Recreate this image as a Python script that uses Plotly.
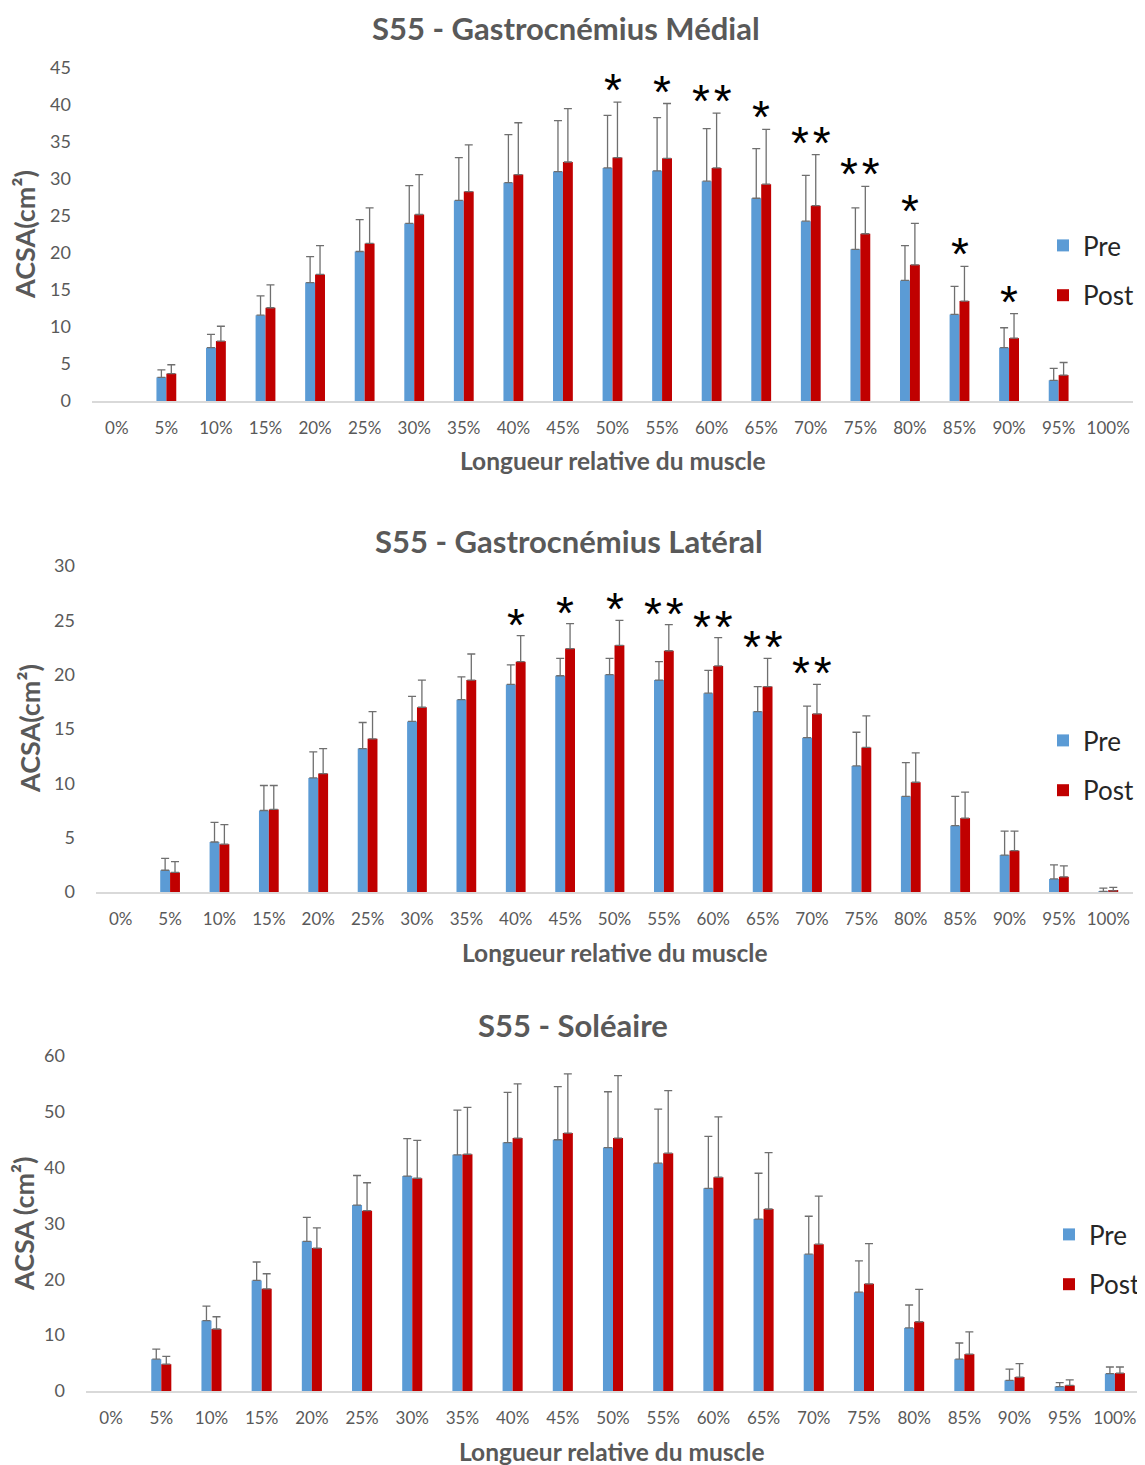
import plotly.graph_objects as go

categories = ["0%", "5%", "10%", "15%", "20%", "25%", "30%", "35%", "40%", "45%", "50%",
              "55%", "60%", "65%", "70%", "75%", "80%", "85%", "90%", "95%", "100%"]

# Gastrocnémius Médial
gm_pre = [None, 3.2, 7.2, 11.6, 16.0, 20.2, 24.0, 27.1, 29.5, 31.0, 31.5,
          31.1, 29.7, 27.4, 24.3, 20.5, 16.3, 11.7, 7.2, 2.8, None]
gm_pre_top = [None, 4.2, 9.0, 14.2, 19.5, 24.5, 29.1, 32.9, 36.0, 37.9, 38.6,
              38.3, 36.8, 34.1, 30.5, 26.1, 21.0, 15.5, 9.9, 4.4, None]
gm_post = [None, 3.7, 8.1, 12.6, 17.1, 21.3, 25.2, 28.3, 30.6, 32.3, 32.9,
           32.8, 31.5, 29.3, 26.4, 22.6, 18.4, 13.5, 8.5, 3.5, None]
gm_post_top = [None, 4.9, 10.1, 15.7, 21.0, 26.1, 30.6, 34.6, 37.6, 39.5, 40.4,
               40.2, 38.9, 36.7, 33.3, 29.0, 24.0, 18.2, 11.8, 5.2, None]
gm_stars = ["", "", "", "", "", "", "", "", "", "", "*",
            "*", "**", "*", "**", "**", "*", "*", "*", "", ""]

# Gastrocnémius Latéral
gl_pre = [None, 2.0, 4.6, 7.5, 10.5, 13.2, 15.7, 17.7, 19.1, 19.9, 20.0,
          19.5, 18.3, 16.6, 14.2, 11.6, 8.8, 6.1, 3.4, 1.2, 0.05]
gl_pre_top = [None, 3.1, 6.4, 9.8, 12.9, 15.6, 18.0, 19.8, 20.9, 21.5, 21.5,
              21.2, 20.4, 18.9, 17.1, 14.7, 11.9, 8.8, 5.6, 2.5, 0.35]
gl_post = [None, 1.8, 4.4, 7.6, 10.9, 14.1, 17.0, 19.5, 21.2, 22.4, 22.7,
           22.2, 20.8, 18.9, 16.4, 13.3, 10.1, 6.8, 3.8, 1.4, 0.1]
gl_post_top = [None, 2.8, 6.2, 9.8, 13.2, 16.6, 19.5, 21.9, 23.6, 24.7, 25.0,
               24.6, 23.4, 21.5, 19.1, 16.2, 12.8, 9.2, 5.6, 2.4, 0.43]
gl_stars = ["", "", "", "", "", "", "", "", "*", "*", "*",
            "**", "**", "**", "**", "", "", "", "", "", ""]

# Soléaire
so_pre = [None, 5.7, 12.6, 19.8, 26.8, 33.3, 38.5, 42.3, 44.5, 45.0, 43.6,
          40.8, 36.3, 30.8, 24.5, 17.7, 11.3, 5.7, 1.9, 0.8, 3.1]
so_pre_top = [None, 7.5, 15.2, 23.1, 31.1, 38.6, 45.2, 50.3, 53.5, 54.5, 53.6,
              50.5, 45.6, 39.0, 31.3, 23.3, 15.4, 8.6, 3.9, 1.5, 4.3]
so_post = [None, 4.8, 11.1, 18.3, 25.6, 32.3, 38.1, 42.4, 45.3, 46.2, 45.3,
           42.6, 38.3, 32.6, 26.3, 19.2, 12.4, 6.6, 2.5, 1.0, 3.2]
so_post_top = [None, 6.2, 13.3, 21.0, 29.2, 37.3, 44.9, 50.8, 55.0, 56.8, 56.5,
               53.8, 49.1, 42.7, 34.9, 26.4, 18.2, 10.6, 4.9, 2.0, 4.3]
so_stars = [""] * 21

titles = ["S55 - Gastrocnémius Médial", "S55 - Gastrocnémius Latéral", "S55 - Soléaire"]
y_titles = ["ACSA(cm²)", "ACSA(cm²)", "ACSA (cm²)"]
x_title = "Longueur relative du muscle"
y_ranges = [[0, 45], [0, 30], [0, 60]]
y_dtick = [5, 5, 10]

OFF = 8  # page body margin
W, H = 1145 - OFF, 1465 - OFF
PRE_C = "#5B9BD5"
POST_C = "#C00000"
GRAY = "#595959"
FONT = "Lato"

def px_x(v):
    return (v - OFF) / W

def px_y(v):
    return 1 - (v - OFF) / H

# layout geometry (pixels, in screenshot coordinates)
panels = [
    dict(x0=92, x1=1133, top=68, bottom=401, title_y=8, xt_y=461, xt_x=613,
         yt_x=25, yt_y=235, leg_x=1043, leg_y=242, star_shift=16),
    dict(x0=96, x1=1133, top=566, bottom=892, title_y=521, xt_y=952, xt_x=615,
         yt_x=29, yt_y=729, leg_x=1043, leg_y=737, star_shift=17),
    dict(x0=86, x1=1140, top=1056, bottom=1391, title_y=1005, xt_y=1451, xt_x=612,
         yt_x=23, yt_y=1224, leg_x=1049, leg_y=1231, star_shift=16),
]
title_x = [566, 569, 573]

data = [
    (gm_pre, gm_pre_top, gm_post, gm_post_top, gm_stars),
    (gl_pre, gl_pre_top, gl_post, gl_post_top, gl_stars),
    (so_pre, so_pre_top, so_post, so_post_top, so_stars),
]

fig = go.Figure()
annotations = []
layout_axes = {}

for i, (pre, pre_top, post, post_top, stars) in enumerate(data):
    n = i + 1
    xa = "x" if n == 1 else f"x{n}"
    ya = "y" if n == 1 else f"y{n}"
    leg = "legend" if n == 1 else f"legend{n}"
    p = panels[i]

    pre_plus = [None if v is None else t - v for v, t in zip(pre, pre_top)]
    post_plus = [None if v is None else t - v for v, t in zip(post, post_top)]
    zeros = [0] * len(categories)

    fig.add_trace(go.Bar(
        x=categories, y=pre, name="Pre", marker_color=PRE_C, marker_line_width=0,
        xaxis=xa, yaxis=ya, legend=leg, legendgroup=f"pre{n}",
        error_y=dict(type="data", symmetric=False, array=pre_plus, arrayminus=zeros,
                     color="#6f6f6f", thickness=1.3, width=4),
    ))
    fig.add_trace(go.Bar(
        x=categories, y=post, name="Post", marker_color=POST_C, marker_line_width=0,
        xaxis=xa, yaxis=ya, legend=leg, legendgroup=f"post{n}",
        error_y=dict(type="data", symmetric=False, array=post_plus, arrayminus=zeros,
                     color="#6f6f6f", thickness=1.3, width=4),
    ))

    xkey = "xaxis" if n == 1 else f"xaxis{n}"
    ykey = "yaxis" if n == 1 else f"yaxis{n}"
    layout_axes[xkey] = dict(
        domain=[px_x(p["x0"]), px_x(p["x1"])], anchor=ya,
        type="category", categoryorder="array", categoryarray=categories,
        showline=True, linecolor="#d9d9d9", linewidth=1.5,
        showgrid=False, zeroline=False, ticks="", automargin=False,
        tickfont=dict(family=FONT, size=17, color=GRAY),
        ticklabelstandoff=11,
    )
    layout_axes[ykey] = dict(
        domain=[px_y(p["bottom"]), px_y(p["top"])], anchor=xa,
        range=y_ranges[i], dtick=y_dtick[i], tick0=0,
        showline=False, showgrid=False, zeroline=False, ticks="", automargin=False,
        tickfont=dict(family=FONT, size=18, color=GRAY),
        ticklabelstandoff=20,
    )

    # panel title (anchored at its top edge)
    annotations.append(dict(
        text=f"<b>{titles[i]}</b>", x=px_x(title_x[i]), y=px_y(p["title_y"]),
        xref="paper", yref="paper", xanchor="center", yanchor="top",
        showarrow=False, borderpad=0, font=dict(family=FONT, size=31, color=GRAY),
    ))
    # x title
    annotations.append(dict(
        text=f"<b>{x_title}</b>", x=px_x(p["xt_x"]), y=px_y(p["xt_y"]),
        xref="paper", yref="paper", xanchor="center", yanchor="middle",
        showarrow=False, borderpad=0, font=dict(family=FONT, size=24.5, color=GRAY),
    ))
    # y title
    annotations.append(dict(
        text=f"<b>{y_titles[i]}</b>", x=px_x(p["yt_x"]), y=px_y(p["yt_y"]),
        xref="paper", yref="paper", xanchor="center", yanchor="middle",
        textangle=-90, showarrow=False, borderpad=0,
        font=dict(family=FONT, size=27, color=GRAY),
    ))
    # significance stars
    for c, s, t in zip(categories, stars, post_top):
        if s and t is not None:
            annotations.append(dict(
                text="\u200a".join(s), x=c, y=t, xref=xa, yref=ya,
                xanchor="center", yanchor="bottom",
                yshift=-p["star_shift"], showarrow=False,
                font=dict(family="Liberation Sans", size=46, color="#000000"),
            ))

    layout_axes[leg] = dict(
        x=px_x(p["leg_x"]), y=px_y(p["leg_y"] - 20), xanchor="left", yanchor="top",
        bgcolor="rgba(0,0,0,0)", borderwidth=0, traceorder="grouped",
        tracegroupgap=13, itemwidth=30,
        font=dict(family=FONT, size=26, color="#262626"),
    )

fig.update_layout(
    width=W, height=H, margin=dict(l=0, r=0, t=0, b=0, autoexpand=False),
    paper_bgcolor="white", plot_bgcolor="white",
    barmode="group", bargap=0.6, bargroupgap=0,
    annotations=annotations, showlegend=True,
    **layout_axes,
)

fig.write_html("out.html")
